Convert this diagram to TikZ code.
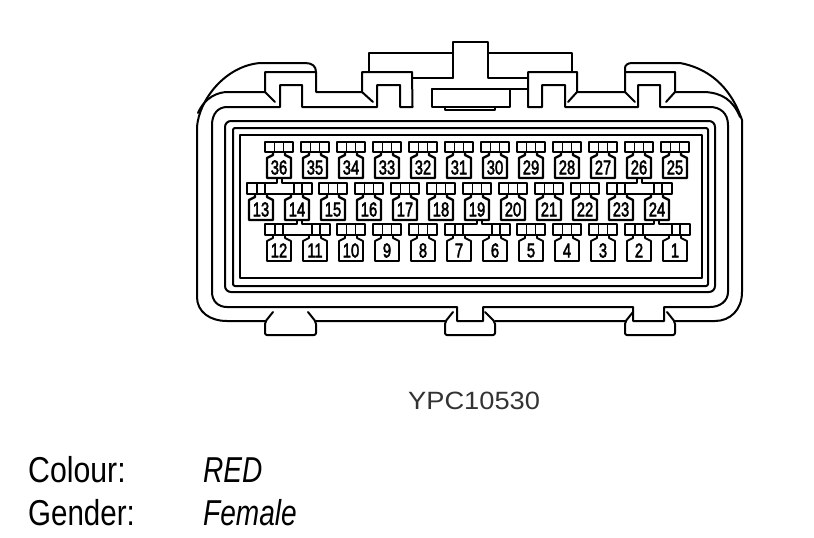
\documentclass[tikz,border=0pt]{standalone}
\usepackage{fontspec}
\setmainfont{Liberation Sans}
\newfontfamily\pinfontb[FakeBold=2.6]{Liberation Sans}
\newcommand{\pinbar}[1]{%
  \draw[pinline] (#1-14,\barT) rectangle (#1+14,\barB);
  \draw[pinline] (#1-4.5,\barT) -- (#1-4.5,\barB) (#1+4.5,\barT) -- (#1+4.5,\barB);}
\newcommand{\pinbody}[3]{%
  \draw[pinline,#3] (#1-6,\barB) -- (#1-6,\barB+3) -- (#1-12,\barB+6) -- (#1-12,\bodyB) -- (#1+12,\bodyB) -- (#1+12,\barB+6) -- (#1+6,\barB+3) -- (#1+6,\barB);
  \node[pinlabel] (p#2) at (#1,\bodyB-10.5) {\scalebox{0.74}[1]{#2}};}
% pair of bars joined below a tail: left centre, right centre, tail x
\newcommand{\pinpair}[3]{%
  \draw[pinline] (#3-2.5,\barT-4) -- (#3-2.5,\barT) -- (#1-14,\barT) -- (#1-14,\barB) -- (#2+14,\barB) -- (#2+14,\barT) -- (#3+2.5,\barT) -- (#3+2.5,\barT-4);
  \draw[pinline] (#1-4,\barT) -- (#1-4,\barB) (#1+4,\barT) -- (#1+4,\barB) (#2-4,\barT) -- (#2-4,\barB) (#2+4,\barT) -- (#2+4,\barB);
  \fill[white] (#3-1.5,\barT-1) rectangle (#3+1.5,\barT+1);}
\tikzset{
  body/.style={line width=2pt,line join=round,line cap=round},
  pinline/.style={line width=1.9pt,line join=round},
  heavy/.style={line width=2.4pt},
  pinlabel/.style={inner sep=0pt,font=\fontsize{20}{20}\selectfont\pinfontb},
  capt/.style={inner sep=0pt,anchor=base west,font=\fontsize{36}{36}\selectfont}
}
\begin{document}
\begin{tikzpicture}[x=1pt,y=-1pt]
\useasboundingbox (0,0) rectangle (814,538);
% --- outer shell, top
\draw[body] (197,127) .. controls (199,100) and (225,66) .. (260,63) -- (305,63)
  .. controls (312,63) and (316,66) .. (316,72) -- (316,92) -- (362,92);
\draw[body] (198,113) .. controls (205,97) and (218,92) .. (228,92) -- (265,92) -- (265,72) -- (316,72);
\draw[body] (265,92) -- (275,102) (362,92) -- (373,102);
\draw[body] (362,92) -- (362,72) -- (412,72) -- (412.5,107);
\draw[body] (369,72) -- (369,53) -- (453,53);
\draw[body] (453,78) -- (453,42) -- (488,42) -- (488,78) -- (528,78);
\draw[body] (412,78) -- (453,78);
\draw[body] (488,53) -- (572,53) -- (572,72);
\draw[body] (528,107) -- (528,72) -- (577,72) -- (577,92) -- (625,92) -- (625,68)
  .. controls (625,65) and (628,63) .. (632,63) -- (680,63)
  .. controls (707,68) and (730,85) .. (742,120);
\draw[body] (625,72) -- (675,72) -- (675,92) -- (705,92) .. controls (722,93) and (733,100) .. (740,117);
\draw[body] (577,92) -- (568,102) (625,92) -- (635,102) (675,92) -- (666,102);
% centre block
\draw[body] (432,89) -- (528,89);
\draw[body] (432,89) -- (432,107) -- (510,107) -- (510,89);
\draw[body] (445,107) -- (445,110) -- (495,110) -- (495,107);
% inner contour
\draw[body] (212,292) -- (212,125) .. controls (212,114) and (218,107) .. (227,107)
  -- (280,107) -- (280,85) -- (302,85) -- (302,107) -- (377,107) -- (377,85) -- (400,85) -- (400,107) -- (412.5,107);
\draw[body] (528,107) -- (542,107) -- (542,85) -- (565,85) -- (565,107) -- (638,107) -- (638,85) -- (660,85) -- (660,107)
  -- (710,107) .. controls (720,107) and (728,113) .. (728,125) -- (728,292)
  .. controls (728,301) and (720,307) .. (710,307) -- (664,307) -- (664,321) -- (633,321) -- (633,307)
  -- (483,307) -- (483,321) -- (457,321) -- (457,307) -- (227,307)
  .. controls (218,307) and (212,301) .. (212,292);
% outer contour, sides and bottom
\draw[body] (197,127) -- (197,297) .. controls (197,312) and (210,321) .. (227,321) -- (265,321);
\draw[body] (316,321) -- (445,321) (495,321) -- (625,321) (675,321) -- (715,321)
  .. controls (730,321) and (742,310) .. (742,292) -- (742,120);
% bottom tabs
\draw[body,rounded corners=2pt] (273,312) -- (265,322) -- (265,335) -- (316,335) -- (316,322) -- (308,312);
\draw[body,rounded corners=2pt] (453,312) -- (445,322) -- (445,335) -- (495,335) -- (495,322) -- (485,312);
\draw[body,rounded corners=2pt] (633,312) -- (625,322) -- (625,335) -- (675,335) -- (675,322) -- (667,312);
% inner frames
\draw[body,rounded corners=6pt] (225,121) rectangle (715,292);
\draw[body,rounded corners=2pt] (233,128) rectangle (708,286);
\draw[body] (240,135) rectangle (702,278);
% --- top row
\def\barT{142}\def\barB{152}\def\bodyB{178}
\foreach \lab [count=\i from 0] in {36,35,34,33,32,31,30,29,28,27,26,25}{
  \pgfmathsetmacro{\cx}{279+36*\i}
  \pinbar{\cx}\pinbody{\cx}{\lab}{heavy}}
% --- middle row
\def\barT{183}\def\barB{194}\def\bodyB{220}
\pinpair{261}{298}{279.5}
\pinpair{621}{658}{639.5}
\foreach \lab [count=\i from 0] in {13,14,15,16,17,18,19,20,21,22,23,24}{
  \pgfmathsetmacro{\cx}{261+36*\i}
  \pgfmathtruncatemacro{\isjoin}{(\lab==13||\lab==14||\lab==23||\lab==24)?1:0}
  \ifnum\isjoin=0 \pinbar{\cx}\fi
  \pinbody{\cx}{\lab}{heavy}}
% --- bottom row
\def\barT{224}\def\barB{235}\def\bodyB{261}
\pinpair{279}{316}{299.5}
\pinpair{459}{496}{479.5}
\pinpair{639}{676}{656.5}
\foreach \lab [count=\i from 0] in {12,11,10,9,8,7,6,5,4,3,2,1}{
  \pgfmathsetmacro{\cx}{279+36*\i}
  \pgfmathtruncatemacro{\isjoin}{(\lab==12||\lab==11||\lab==7||\lab==6||\lab==2||\lab==1)?1:0}
  \ifnum\isjoin=0 \pinbar{\cx}\fi
  \pinbody{\cx}{\lab}{}}
% --- texts
\node[inner sep=0pt,anchor=base west,text=black!80,font=\fontsize{25}{25}\selectfont] (ref) at (408,409) {\scalebox{1.09}[1]{YPC10530}};
\node[capt] (colour) at (28,482.5) {\scalebox{0.84}[1]{Colour:}};
\node[capt] (gender) at (28,525) {\scalebox{0.82}[1]{Gender:}};
\node[capt] (red) at (203,482.5) {\scalebox{0.78}[1]{\itshape RED}};
\node[capt] (female) at (203,525) {\scalebox{0.78}[1]{\itshape Female}};
\end{tikzpicture}
\end{document}
